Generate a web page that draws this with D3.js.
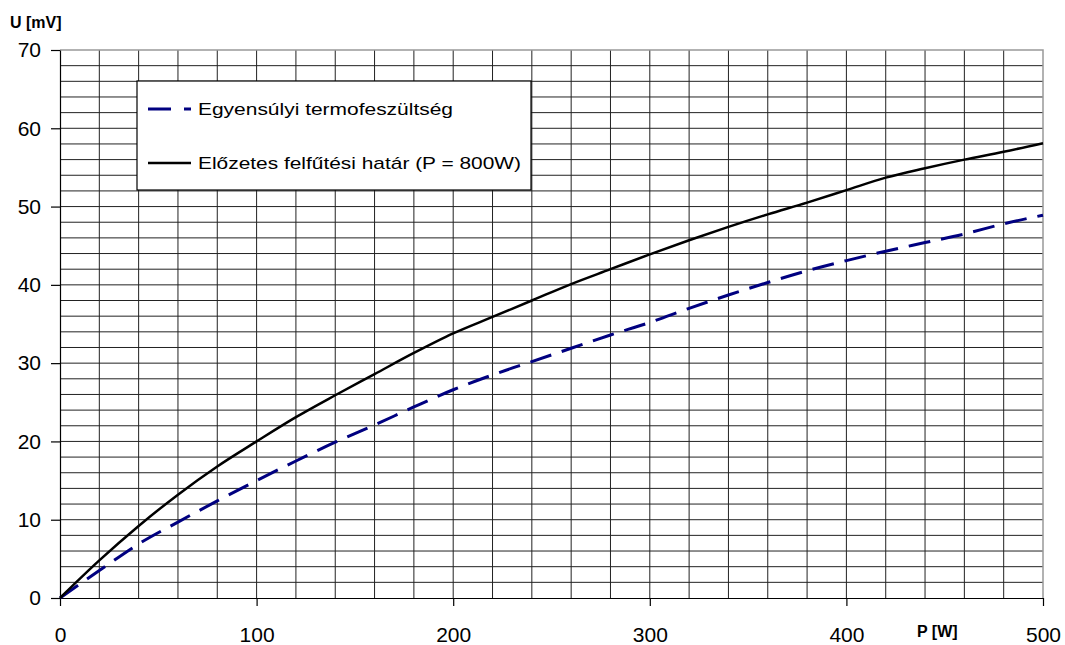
<!DOCTYPE html>
<html>
<head>
<meta charset="utf-8">
<script src="https://cdn.jsdelivr.net/npm/d3@7"></script>
<style>
  body { margin: 0; background: #fff; }
  text { font-family: Arial, "Liberation Sans", sans-serif; }
</style>
</head>
<body>
<div id="canvas"></div>
<script>
"use strict"

// power values (W) where the curves were read
let power = [0, 20, 40, 60, 80, 100, 120, 140, 160, 180, 200, 220, 240, 260, 280, 300, 320, 340, 360, 380, 400, 420, 440, 460, 480, 500]
// Egyensúlyi termofeszültség (mV)
let equilibrium = [0, 3.5, 6.9, 9.7, 12.4, 15.0, 17.5, 19.9, 22.1, 24.4, 26.6, 28.5, 30.2, 31.9, 33.6, 35.2, 37.0, 38.7, 40.3, 41.8, 43.1, 44.3, 45.4, 46.5, 47.8, 48.9]
// Előzetes felfűtési határ (mV)
let preheat = [0, 4.8, 9.2, 13.2, 16.8, 20.0, 23.1, 25.9, 28.6, 31.3, 33.8, 35.9, 38.0, 40.1, 42.0, 43.9, 45.7, 47.4, 49.0, 50.5, 52.1, 53.7, 54.9, 56.0, 57.0, 58.1]

let xTicks = [0, 100, 200, 300, 400, 500]
let yTicks = [0, 10, 20, 30, 40, 50, 60, 70]
let legendLabels = ["Egyensúlyi termofeszültség", "Előzetes felfűtési határ (P = 800W)"]

let drawing = d3.select("#canvas")
    .append("svg")
    .attr("width", 1065)
    .attr("height", 645)

let x = d3.scaleLinear().domain([0, 500]).range([60, 1043])
let y = d3.scaleLinear().domain([0, 70]).range([598, 50])

// grid - every 20 W and every 2 mV
drawing.append("g")
    .selectAll("line")
    .data(d3.range(20, 500, 20))
    .join("line")
    .attr("x1", d => x(d))
    .attr("x2", d => x(d))
    .attr("y1", y(70))
    .attr("y2", y(0))
    .attr("stroke", "#222")
    .attr("stroke-width", 1)

drawing.append("g")
    .selectAll("line")
    .data(d3.range(2, 70, 2))
    .join("line")
    .attr("x1", x(0))
    .attr("x2", x(500))
    .attr("y1", d => y(d))
    .attr("y2", d => y(d))
    .attr("stroke", "#222")
    .attr("stroke-width", 1)

// top and right border is grey
drawing.append("polyline")
    .attr("points", [[x(0), y(70)], [x(500), y(70)], [x(500), y(0)]].join(" "))
    .attr("fill", "none")
    .attr("stroke", "#999")
    .attr("stroke-width", 1.5)

// axes
let yAxis = drawing.append("g")
    .attr("transform", "translate(" + x(0) + ",0)")
    .call(d3.axisLeft(y).tickValues(yTicks).tickSize(9).tickSizeOuter(0).tickPadding(10))

let xAxis = drawing.append("g")
    .attr("transform", "translate(0," + y(0) + ")")
    .call(d3.axisBottom(x).tickValues(xTicks).tickSize(8).tickSizeOuter(0).tickPadding(21))

drawing.selectAll(".tick text")
    .attr("font-size", 21)
    .attr("font-family", "Arial, 'Liberation Sans', sans-serif")
    .attr("fill", "#000")
drawing.selectAll(".domain, .tick line")
    .attr("stroke", "#000")
    .attr("stroke-width", 1.2)

drawing.append("text") // y axis title
    .attr("x", 10)
    .attr("y", 28)
    .attr("font-size", 16)
    .attr("font-weight", "bold")
    .text("U [mV]")

drawing.append("text") // x axis title
    .attr("x", 917)
    .attr("y", 637)
    .attr("font-size", 16)
    .attr("font-weight", "bold")
    .text("P [W]")

// curves
let rows = power.map((p, i) => ({ p: p, eq: equilibrium[i], pre: preheat[i] }))

let eqLine = d3.line().x(d => x(d.p)).y(d => y(d.eq)).curve(d3.curveMonotoneX)
let preLine = d3.line().x(d => x(d.p)).y(d => y(d.pre)).curve(d3.curveMonotoneX)

drawing.append("path")
    .datum(rows)
    .attr("d", eqLine)
    .attr("fill", "none")
    .attr("stroke", "#000080")
    .attr("stroke-width", 3)
    .attr("stroke-dasharray", "22,11")

drawing.append("path")
    .datum(rows)
    .attr("d", preLine)
    .attr("fill", "none")
    .attr("stroke", "#000")
    .attr("stroke-width", 2.5)

// legend
let legend = drawing.append("g")

legend.append("rect")
    .attr("x", 137)
    .attr("y", 81)
    .attr("width", 394)
    .attr("height", 109)
    .attr("fill", "#fff")
    .attr("stroke", "#000")
    .attr("stroke-width", 1.2)

legend.append("line")
    .attr("x1", 148).attr("x2", 191)
    .attr("y1", 109).attr("y2", 109)
    .attr("stroke", "#000080")
    .attr("stroke-width", 3)
    .attr("stroke-dasharray", "23,13")

legend.append("line")
    .attr("x1", 148).attr("x2", 191)
    .attr("y1", 163).attr("y2", 163)
    .attr("stroke", "#000")
    .attr("stroke-width", 2.5)

legend.selectAll("text.lbl")
    .data(legendLabels)
    .join("text")
    .attr("class", "lbl")
    .attr("x", 198)
    .attr("y", (d, i) => 115 + i * 54)
    .attr("font-size", 17)
    .attr("textLength", (d, i) => i == 0 ? 255 : 323)
    .attr("lengthAdjust", "spacingAndGlyphs")
    .text(d => d)
</script>
</body>
</html>
